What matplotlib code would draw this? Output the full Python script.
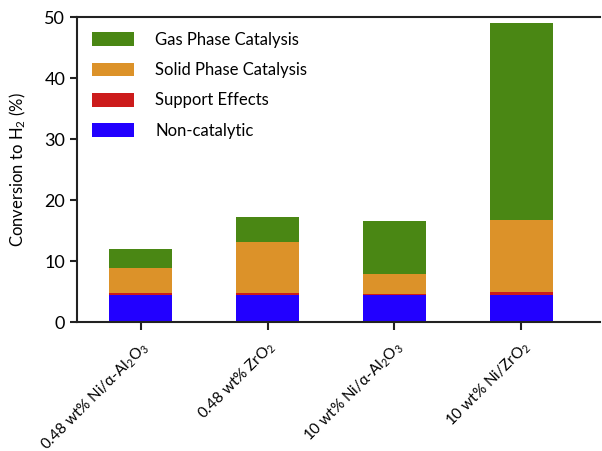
import matplotlib
matplotlib.use("Agg")
import matplotlib.pyplot as plt
import numpy as np

plt.rcParams['font.family'] = ['Lato', 'DejaVu Sans']
plt.rcParams['mathtext.fontset'] = 'custom'
plt.rcParams['mathtext.rm'] = 'Lato'
plt.rcParams['mathtext.it'] = 'Lato:italic'

catalysts = ['0.48 wt% Ni/α-Al$_2$O$_3$', '0.48 wt% ZrO$_2$',
             '10 wt% Ni/α-Al$_2$O$_3$', '10 wt% Ni/ZrO$_2$']
non_catalytic = [4.4, 4.4, 4.4, 4.4]
support = [0.3, 0.4, 0.2, 0.5]
solid_phase = [4.1, 8.3, 3.2, 11.9]
gas_phase = [3.2, 4.1, 8.8, 32.2]

colors = {'gas': '#4a8714', 'solid': '#dc9229', 'support': '#cc1b1b', 'non': '#2200ff'}

fig = plt.figure(figsize=(6.02, 4.51), dpi=100)
ax = fig.add_axes([0.128, 0.286, 0.869, 0.676])

x = np.arange(len(catalysts))
w = 0.5
b1 = np.array(non_catalytic)
b2 = b1 + np.array(support)
b3 = b2 + np.array(solid_phase)

h_non = ax.bar(x, non_catalytic, w, color=colors['non'], label='Non-catalytic')
h_sup = ax.bar(x, support, w, bottom=b1, color=colors['support'], label='Support Effects')
h_sol = ax.bar(x, solid_phase, w, bottom=b2, color=colors['solid'], label='Solid Phase Catalysis')
h_gas = ax.bar(x, gas_phase, w, bottom=b3, color=colors['gas'], label='Gas Phase Catalysis')

ax.set_xlim(-0.5, 3.62)
ax.set_ylim(0, 50)
ax.set_yticks([0, 10, 20, 30, 40, 50])
ax.set_xticks(x)
ax.set_xticklabels(catalysts, rotation=45, ha='right', rotation_mode='anchor', fontsize=11)
ax.tick_params(axis='y', labelsize=13, width=1.5, length=5, color='#222222')
ax.tick_params(axis='x', width=1.5, length=6, pad=6, color='#222222')
ax.set_ylabel('Conversion to H$_2$ (%)', fontsize=12, labelpad=12)

for s in ['left', 'bottom', 'top']:
    ax.spines[s].set_linewidth(1.5)
    ax.spines[s].set_color('#222222')
ax.spines['right'].set_visible(False)

leg = ax.legend(handles=[h_gas, h_sol, h_sup, h_non], loc='upper left', frameon=False,
                fontsize=12, handlelength=2.5, handleheight=0.9, labelspacing=0.85,
                handletextpad=1.3, borderaxespad=0.5)

fig.savefig('out.png', dpi=100)
